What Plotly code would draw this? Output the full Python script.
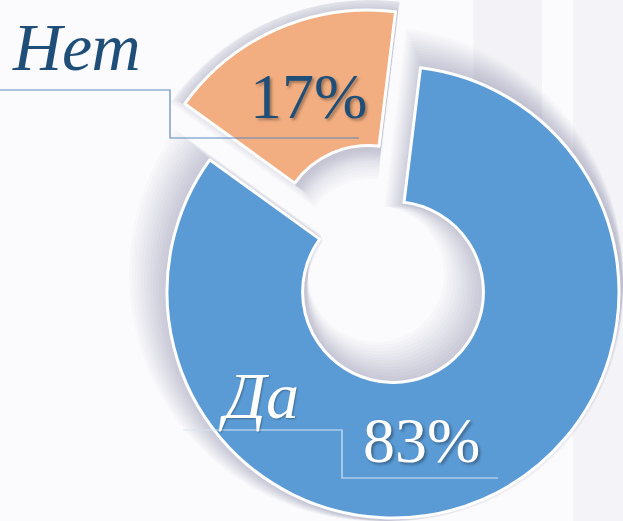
import plotly.graph_objects as go

labels = ["Да", "Нет"]
values = [83, 17]
colors = ["#5B9BD5", "#F2AE80"]

W, H = 623, 521
CX, CY, R = 393, 292, 226     # main ring centre / radius in px
PULL_DX, PULL_DY = -25, -56   # offset of the pulled slice
HOLE = 0.40

def dom(cx, cy, r):
    cx = min(max(cx, r), W - r)
    cy = min(max(cy, r), H - r)
    return dict(x=[max(0, (cx - r) / W), min(1, (cx + r) / W)],
                y=[max(0, 1 - (cy + r) / H), min(1, 1 - (cy - r) / H)])

def ring(cx, cy, keep, r=R, hole=HOLE, col=None, lw=3):
    cols = [(col or colors[i]) if i == keep else "rgba(0,0,0,0)" for i in range(len(values))]
    lws = [lw if i == keep else 0 for i in range(len(values))]
    return go.Pie(labels=labels, values=values, sort=False, direction="clockwise",
                  rotation=7, hole=hole, domain=dom(cx, cy, r),
                  marker=dict(colors=cols, line=dict(color="white", width=lws)),
                  textinfo="none", hoverinfo="label+percent", showlegend=False)

fig = go.Figure()
# soft shadow (stacked translucent rings)
for k in range(1, 15):
    for i, (cx, cy) in enumerate([(CX, CY), (CX + PULL_DX, CY + PULL_DY)]):
        rr = R + k * 1.5
        fig.add_trace(ring(cx + 2, cy + 3, i, r=rr, hole=max(0.05, (R * HOLE - k * 1.6) / rr),
                           col="rgba(70,70,90,0.02)", lw=0))
fig.add_trace(ring(CX, CY, 0))
fig.add_trace(ring(CX + PULL_DX, CY + PULL_DY, 1))

pct = [f"{v}%" for v in values]
serif = "Liberation Serif"
ann = [
    dict(text=labels[1], x=76, y=47, font=dict(family=serif, size=68, color="#1F4E79", style="italic")),
    dict(text=pct[1], x=308, y=96, font=dict(family=serif, size=64, color="#1F4E79",
                                              shadow="2px 2px 3px rgba(0,0,0,0.35)")),
    dict(text=labels[0], x=258, y=395, font=dict(family=serif, size=66, color="white", style="italic",
                                                shadow="1px 1px 2px rgba(0,0,0,0.3)")),
    dict(text=pct[0], x=421, y=440, font=dict(family=serif, size=64, color="white",
                                              shadow="2px 2px 3px rgba(0,0,0,0.35)")),
]
annotations = []
for a in ann:
    annotations.append(dict(text=a["text"], x=a["x"] / W, y=1 - a["y"] / H, xref="paper", yref="paper",
                            showarrow=False, xanchor="center", yanchor="middle", font=a["font"]))

def poly(pts, color):
    path = "M " + " L ".join(f"{x / W},{1 - y / H}" for x, y in pts)
    return dict(type="path", path=path, xref="paper", yref="paper", line=dict(color=color, width=1.2))

shapes = [
    dict(type="rect", xref="paper", yref="paper", x0=0.76, x1=0.87, y0=0.6, y1=1,
         fillcolor="rgba(190,190,205,0.12)", line=dict(width=0), layer="below"),
    dict(type="rect", xref="paper", yref="paper", x0=0.92, x1=1, y0=0, y1=1,
         fillcolor="rgba(200,200,215,0.12)", line=dict(width=0), layer="below"),
    poly([(0, 90), (170, 90), (170, 138), (359, 138)], "#5A8AC0"),
    poly([(183, 430), (342, 430), (342, 478), (498, 478)], "#D8E6F3"),
]

fig.update_layout(width=W, height=H, margin=dict(l=0, r=0, t=0, b=0),
                  paper_bgcolor="#FBFBFD", plot_bgcolor="#FBFBFD",
                  annotations=annotations, shapes=shapes)
fig.write_html("out.html", config={"displayModeBar": False},
               post_script="document.body.style.margin='0';")
